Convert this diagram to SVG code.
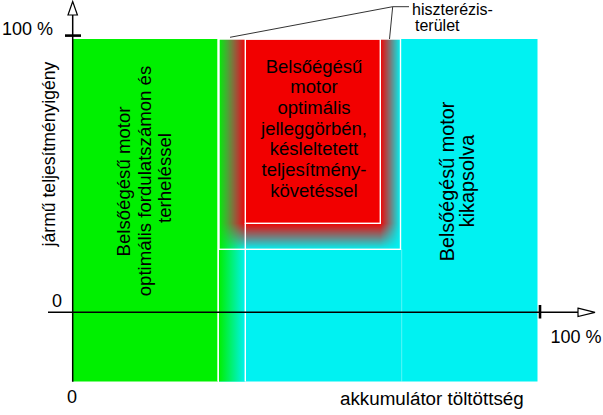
<svg xmlns="http://www.w3.org/2000/svg" width="603" height="415" viewBox="0 0 603 415">
<style>
text{font-family:"Liberation Sans",Arial,sans-serif;font-size:18.6px;fill:#000}
.t16{font-size:16px}
.t18{font-size:18px}
.red{font-size:18.5px}
.cy{font-size:19.8px}
.w{stroke:#fff;stroke-width:1.4;fill:none}
.ax{stroke:#000;stroke-width:1.5;fill:none}
.tick{stroke:#000;stroke-width:2.6}
.arr{fill:#fff;stroke:#000;stroke-width:1.2}
.lead{stroke:#333;stroke-width:1;fill:none}
</style>
<defs>
<linearGradient id="gc" gradientUnits="userSpaceOnUse" x1="219" y1="0" x2="245.3" y2="0">
<stop offset="0" stop-color="#00f000"/><stop offset="1" stop-color="#00f2f2"/>
</linearGradient>
<linearGradient id="gh" gradientUnits="userSpaceOnUse" x1="219" y1="0" x2="400.5" y2="0">
<stop offset="0" stop-color="#000"/><stop offset="0.1449" stop-color="#fff"/><stop offset="0.8887" stop-color="#fff"/><stop offset="1" stop-color="#000"/>
</linearGradient>
<linearGradient id="gv" gradientUnits="userSpaceOnUse" x1="0" y1="39" x2="0" y2="249.3">
<stop offset="0" stop-color="#fff"/><stop offset="0.8764" stop-color="#fff"/><stop offset="1" stop-color="#000"/>
</linearGradient>
<mask id="mh" maskUnits="userSpaceOnUse" x="0" y="0" width="603" height="415"><rect x="219" y="39" width="181.5" height="210.3" fill="url(#gh)"/></mask>
<mask id="mv" maskUnits="userSpaceOnUse" x="0" y="0" width="603" height="415"><rect x="219" y="39" width="181.5" height="210.3" fill="url(#gv)"/></mask>
</defs>
<rect width="603" height="415" fill="#fff"/>

<g id="region-off">
<rect x="219" y="39" width="318.5" height="342.5" fill="#00f2f2"/>
<line x1="401.7" y1="249.3" x2="401.7" y2="381.5" stroke="#fff" stroke-opacity="0.35" stroke-width="1"/>
<text class="cy" transform="translate(453.5,181.5) rotate(-90)" text-anchor="middle">Belsőégésű motor</text>
<text class="cy" transform="translate(474,181) rotate(-90)" text-anchor="middle">kikapsolva</text>
</g>

<g id="region-optimal">
<rect x="73" y="39" width="145" height="342.5" fill="#00f000"/>
<text transform="translate(130,181.5) rotate(-90)" text-anchor="middle">Belsőégésű motor</text>
<text transform="translate(150.7,181) rotate(-90)" text-anchor="middle">optimális fordulatszámon és</text>
<text transform="translate(171,178) rotate(-90)" text-anchor="middle">terheléssel</text>
</g>

<g id="region-hysteresis">
<rect x="219" y="39" width="26.3" height="342.5" fill="url(#gc)"/>
<g mask="url(#mv)"><rect x="219" y="39" width="181.5" height="210.3" fill="#f20000" mask="url(#mh)"/></g>
<rect class="w" x="219" y="39" width="181.5" height="210.3"/>
<rect class="w" x="245.3" y="39" width="135" height="184.3"/>
<line class="w" x1="245.3" y1="223.3" x2="245.3" y2="381.5"/>
<line class="w" x1="218" y1="39" x2="218" y2="381.5" stroke-width="1.8"/>
</g>

<g id="region-delayed">
<text class="red" x="314" y="72.5" text-anchor="middle">Belsőégésű</text>
<text class="red" x="314" y="93.2" text-anchor="middle">motor</text>
<text class="red" x="314" y="113.9" text-anchor="middle">optimális</text>
<text class="red" x="314" y="134.6" text-anchor="middle">jelleggörbén,</text>
<text class="red" x="314" y="155.3" text-anchor="middle">késleltetett</text>
<text class="red" x="314" y="176" text-anchor="middle">teljesítmény-</text>
<text class="red" x="314" y="196.7" text-anchor="middle">követéssel</text>
</g>

<g id="axes">
<line class="ax" x1="72.7" y1="15" x2="72.7" y2="381.7"/>
<polygon class="arr" points="72.7,1.5 68,15 77.4,15"/>
<line class="tick" x1="65" y1="35.6" x2="81" y2="35.6"/>
<line class="ax" x1="48" y1="312.3" x2="578" y2="312.3"/>
<polygon class="arr" points="578,308.2 595,312.3 578,316.6"/>
<line class="tick" x1="540" y1="305" x2="540" y2="318.5"/>
<text class="t18" x="2" y="35">100 %</text>
<text class="t18" x="550.5" y="343">100 %</text>
<text class="t18" x="52" y="307">0</text>
<text class="t18" x="67" y="403">0</text>
<text transform="translate(54.5,154) rotate(-90)" text-anchor="middle" style="font-size:17.6px">jármű teljesítményigény</text>
<text x="340" y="405" style="font-size:18.8px">akkumulátor töltöttség</text>
</g>

<g id="label-hysteresis">
<text class="t16" x="412" y="15">hiszterézis-</text>
<text class="t16" x="415" y="31">terület</text>
</g>

<g id="connectors">
<polyline class="lead" points="230,37.3 392.7,6.7 409,6.7"/>
<line class="lead" x1="392.7" y1="6.7" x2="389.5" y2="39"/>
</g>
</svg>
